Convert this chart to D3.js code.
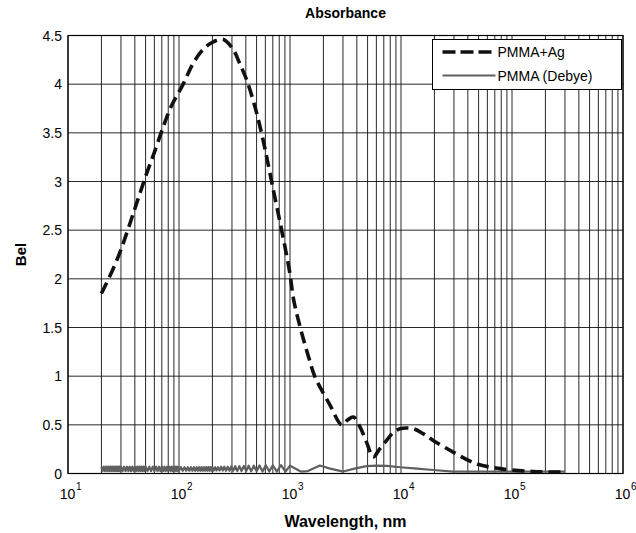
<!DOCTYPE html>
<html>
<head>
<meta charset="utf-8">
<script src="https://cdn.jsdelivr.net/npm/d3@7"></script>
<style>
  body { margin: 0; background: #fff; }
  svg { display: block; }
  text { font-family: "Liberation Sans", Arial, Helvetica, sans-serif; }
</style>
</head>
<body>
<svg id="chart" width="636" height="533"></svg>
<script>
// Data
// PMMA+Ag (dashed), wavelength in nm -> absorbance in Bel
var agWavelength = [20, 25, 30, 40, 51, 60, 72, 85, 109, 135, 166, 200, 251, 306, 350, 408, 480, 556, 630, 708,
  800, 900, 1000, 1072, 1230, 1450, 1680, 1860, 2300, 2920, 3300, 3720, 4270, 4900, 5620, 6400, 7420, 8500,
  9800, 12900, 15800, 19500, 29500, 47600, 78000, 155000, 300000];
var agBel = [1.85, 2.08, 2.3, 2.72, 3.08, 3.3, 3.56, 3.77, 4.0, 4.22, 4.36, 4.43, 4.46, 4.36, 4.22, 4.04, 3.78, 3.49, 3.2, 2.91,
  2.62, 2.33, 2.05, 1.8, 1.51, 1.22, 0.99, 0.89, 0.7, 0.5, 0.55, 0.58, 0.48, 0.32, 0.17, 0.25, 0.34, 0.42,
  0.46, 0.46, 0.41, 0.34, 0.22, 0.1, 0.05, 0.02, 0.015];

// PMMA (Debye) (solid grey), oscillating near zero
var debyeWavelength = [20, 20.5, 21, 21.5, 22, 22.5, 23, 23.5, 24, 24.5, 25, 25.5, 26, 26.5, 27, 27.5, 28, 28.5, 29, 29.5, 30,
  31, 32, 33, 34, 35, 36, 37, 38, 39, 40, 41, 42, 43, 44, 45, 46, 47, 48, 49, 50,
  52, 54, 56, 58, 60, 62, 64, 66, 68, 70, 72, 74, 76, 78, 80, 82, 84, 86, 88, 90, 92, 94, 96, 98, 100,
  104, 108, 112, 116, 120, 124, 128, 132, 136, 140, 144, 148, 152, 156, 160, 164, 168, 172, 176, 180, 184, 188, 192, 196,
  200, 206, 212, 218, 225, 232, 240, 248, 256, 265, 275, 285, 296, 308, 321, 335, 350, 366, 384, 403, 424, 447, 472, 500,
  531, 566, 605, 650, 700, 760, 830, 910, 1000,
  1250, 1450, 1860, 2300, 3020, 3800, 4900, 6000, 7420, 9800, 14000, 19500, 29500, 50000, 100000, 200000, 300000];
var debyeBel = [0.07, 0.025, 0.07, 0.025, 0.07, 0.025, 0.07, 0.025, 0.07, 0.025, 0.07, 0.025, 0.07, 0.025, 0.07, 0.025, 0.07, 0.025, 0.07, 0.025, 0.07,
  0.025, 0.07, 0.025, 0.07, 0.025, 0.07, 0.025, 0.07, 0.025, 0.07, 0.025, 0.07, 0.025, 0.07, 0.025, 0.07, 0.025, 0.07, 0.025,
  0.07, 0.025, 0.07, 0.025, 0.07, 0.025, 0.07, 0.025, 0.07, 0.025, 0.07, 0.025, 0.07, 0.025, 0.07, 0.025, 0.07, 0.025, 0.07, 0.025, 0.07, 0.025, 0.07, 0.025, 0.07,
  0.028, 0.065, 0.028, 0.065, 0.028, 0.065, 0.028, 0.065, 0.028, 0.065, 0.028, 0.065, 0.028, 0.065, 0.028, 0.065, 0.028, 0.065, 0.028, 0.065, 0.028, 0.065, 0.028, 0.065, 0.028,
  0.065, 0.03, 0.065, 0.03, 0.065, 0.03, 0.07, 0.03, 0.07, 0.028, 0.07, 0.028, 0.072, 0.028, 0.075, 0.025, 0.075, 0.025, 0.078, 0.025, 0.08, 0.022, 0.08, 0.022,
  0.082, 0.02, 0.085, 0.02, 0.085, 0.02, 0.085, 0.02, 0.08,
  0.02, 0.025, 0.082, 0.05, 0.02, 0.05, 0.075, 0.08, 0.078, 0.064, 0.05, 0.036, 0.02, 0.02, 0.02, 0.02, 0.02];

var yTicks = [0, 0.5, 1, 1.5, 2, 2.5, 3, 3.5, 4, 4.5];
var yTickLabels = ["0", "0.5", "1", "1.5", "2", "2.5", "3", "3.5", "4", "4.5"];
var xDecades = [1e1, 1e2, 1e3, 1e4, 1e5, 1e6];
var xExponents = ["1", "2", "3", "4", "5", "6"];
var seriesNames = ["PMMA+Ag", "PMMA (Debye)"];

var agData = agWavelength.map(function(w, i) { return {x: w, y: agBel[i]}; });
var debyeData = debyeWavelength.map(function(w, i) { return {x: w, y: debyeBel[i]}; });

// Setup margins
var svg = d3.select("#chart");
const margin = { top: 35.5, bottom: 59.5, left: 68, right: 13 };
var width = 636 - margin.left - margin.right;
var height = 533 - margin.top - margin.bottom;

const xscale = d3.scaleLog().domain([10, 1e6]).range([0, width]);
const yscale = d3.scaleLinear().domain([0, 4.5]).range([height, 0]);

const plot = svg
  .append("g")
  .attr("transform", `translate(${margin.left}, ${margin.top})`);

// Grid: every minor decade step plus each 0.5 Bel
var minorTicks = xscale.ticks(50);
plot
  .append("g")
  .selectAll("line")
  .data(minorTicks)
  .enter()
  .append("line")
  .attr("x1", d => xscale(d))
  .attr("x2", d => xscale(d))
  .attr("y1", 0)
  .attr("y2", height)
  .attr("stroke", "#111")
  .attr("stroke-width", 0.9);

plot
  .append("g")
  .selectAll("line")
  .data(yTicks)
  .enter()
  .append("line")
  .attr("x1", 0)
  .attr("x2", width)
  .attr("y1", d => yscale(d))
  .attr("y2", d => yscale(d))
  .attr("stroke", "#111")
  .attr("stroke-width", 0.9);

// Frame
plot
  .append("rect")
  .attr("width", width)
  .attr("height", height)
  .attr("fill", "none")
  .attr("stroke", "#000")
  .attr("stroke-width", 1.2);

// Y tick labels
plot
  .append("g")
  .selectAll("text")
  .data(yTicks)
  .enter()
  .append("text")
  .attr("x", -6)
  .attr("y", d => yscale(d) + 5)
  .attr("text-anchor", "end")
  .style("font-size", "14px")
  .text((d, i) => yTickLabels[i]);

// X tick labels: 10 with superscript exponent
var xlab = plot
  .append("g")
  .selectAll("g")
  .data(xDecades)
  .enter()
  .append("g")
  .attr("transform", d => `translate(${xscale(d)}, ${height + 25})`);
xlab
  .append("text")
  .attr("x", -0.5)
  .attr("text-anchor", "middle")
  .style("font-size", "14px")
  .text("10");
xlab
  .append("text")
  .attr("x", 8)
  .attr("y", -9)
  .style("font-size", "10px")
  .text((d, i) => xExponents[i]);

// Curves
var line = d3.line()
  .x(d => xscale(d.x))
  .y(d => yscale(d.y));

plot
  .append("path")
  .datum(debyeData)
  .attr("d", line)
  .attr("fill", "none")
  .attr("stroke", "#5f5f5f")
  .attr("stroke-width", 2.2)
  .attr("stroke-linejoin", "round");

plot
  .append("path")
  .datum(agData)
  .attr("d", line.curve(d3.curveCatmullRom.alpha(0.5)))
  .attr("fill", "none")
  .attr("stroke", "#111")
  .attr("stroke-width", 3.6)
  .attr("stroke-dasharray", "12,6");

// Legend
var legend = svg.append("g").attr("transform", "translate(432.5, 39.5)");
legend
  .append("rect")
  .attr("width", 189)
  .attr("height", 50)
  .attr("fill", "#fff")
  .attr("stroke", "#000")
  .attr("stroke-width", 1);
legend
  .append("line")
  .attr("x1", 10).attr("x2", 63)
  .attr("y1", 12.5).attr("y2", 12.5)
  .attr("stroke", "#111")
  .attr("stroke-width", 3.6)
  .attr("stroke-dasharray", "13,5");
legend
  .append("line")
  .attr("x1", 10).attr("x2", 63)
  .attr("y1", 36).attr("y2", 36)
  .attr("stroke", "#5f5f5f")
  .attr("stroke-width", 2);
legend
  .selectAll("text")
  .data(seriesNames)
  .enter()
  .append("text")
  .attr("x", 65)
  .attr("y", (d, i) => 17.5 + i * 23.5)
  .style("font-size", "14px")
  .text(d => d);

// Titles
svg
  .append("text")
  .attr("x", margin.left + width / 2)
  .attr("y", 18)
  .attr("text-anchor", "middle")
  .style("font-size", "14px")
  .style("font-weight", "bold")
  .text("Absorbance");

svg
  .append("text")
  .attr("x", margin.left + width / 2)
  .attr("y", 527)
  .attr("text-anchor", "middle")
  .style("font-size", "16px")
  .style("font-weight", "bold")
  .text("Wavelength, nm");

svg
  .append("text")
  .attr("transform", `translate(26, ${margin.top + height / 2}) rotate(-90)`)
  .attr("text-anchor", "middle")
  .style("font-size", "15px")
  .style("font-weight", "bold")
  .text("Bel");
</script>
</body>
</html>
